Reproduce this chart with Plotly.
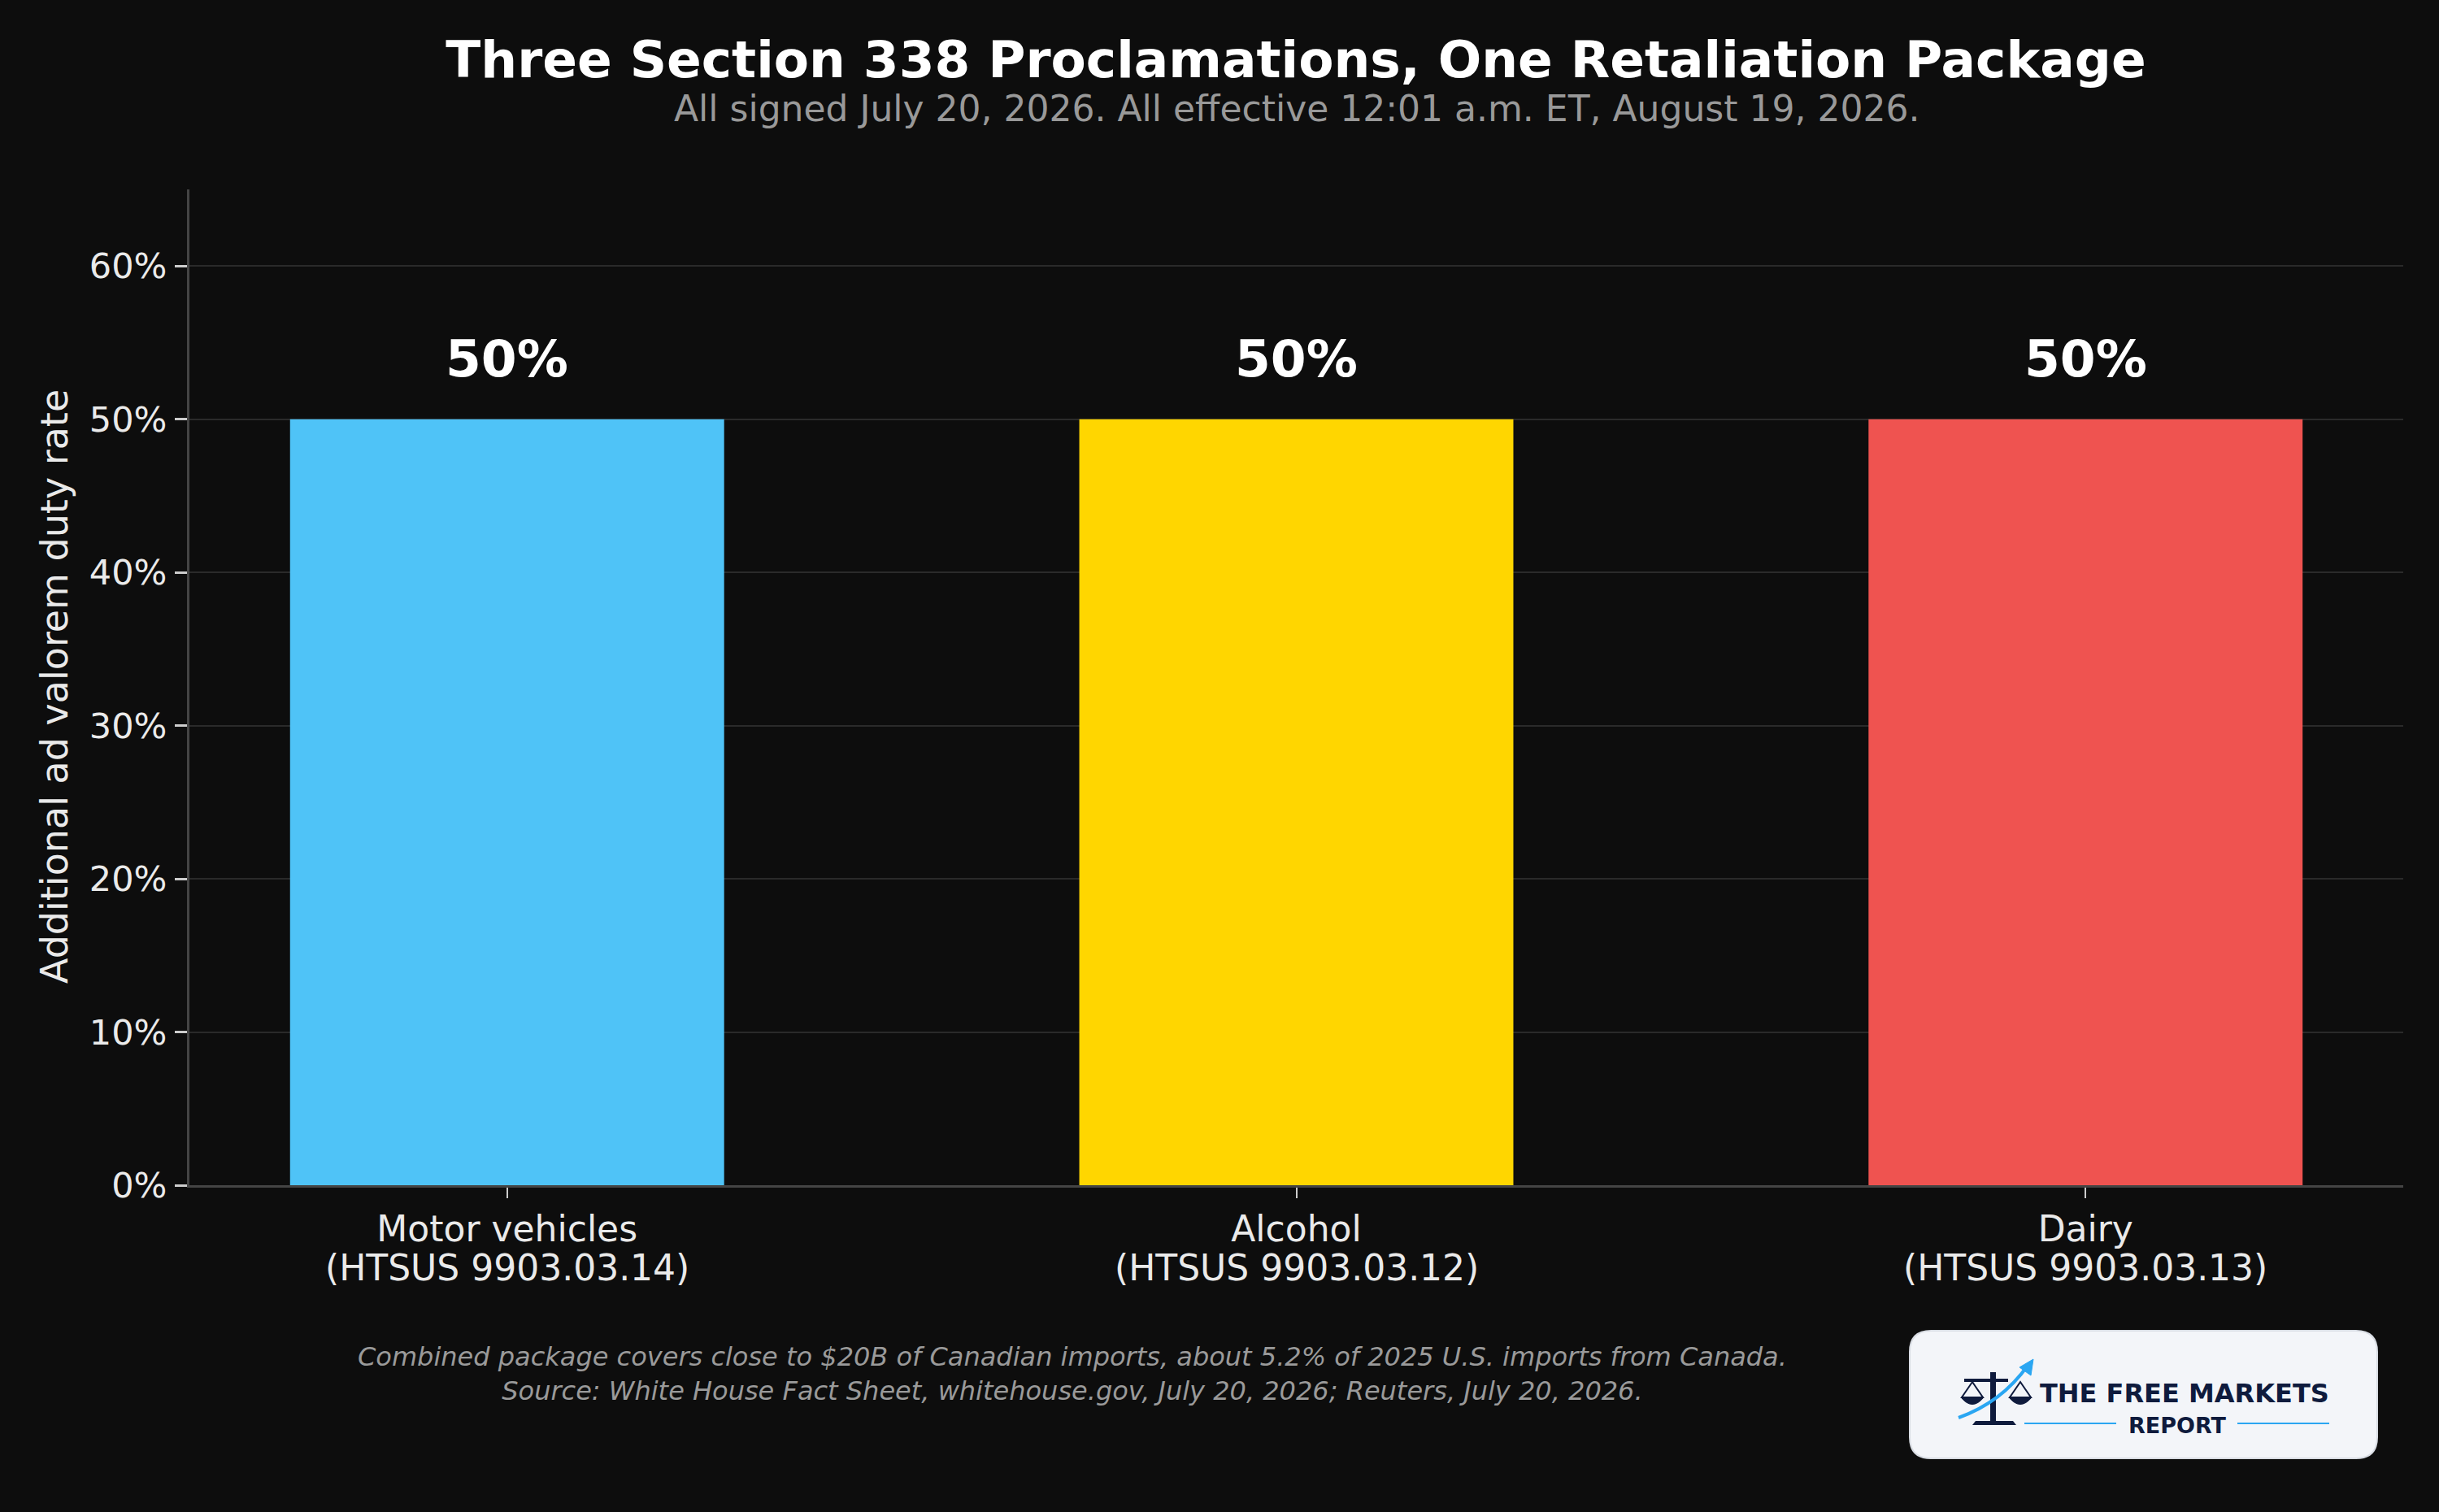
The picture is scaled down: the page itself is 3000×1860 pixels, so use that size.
import plotly.graph_objects as go

# ---- data ----
categories = ["Motor vehicles", "Alcohol", "Dairy"]
htsus_codes = ["(HTSUS 9903.03.14)", "(HTSUS 9903.03.12)", "(HTSUS 9903.03.13)"]
duty_rates = [50, 50, 50]
bar_labels = ["50%", "50%", "50%"]
bar_colors = ["#4FC3F7", "#FFD600", "#EF5350"]
y_ticks = [0, 10, 20, 30, 40, 50, 60]
y_tick_labels = ["0%", "10%", "20%", "30%", "40%", "50%", "60%"]

title_text = "Three Section 338 Proclamations, One Retaliation Package"
subtitle_text = "All signed July 20, 2026. All effective 12:01 a.m. ET, August 19, 2026."
footnote_text = ("Combined package covers close to $20B of Canadian imports, about 5.2% of 2025 U.S. imports from Canada.<br>"
                 "Source: White House Fact Sheet, whitehouse.gov, July 20, 2026; Reuters, July 20, 2026.")

# ---- layout geometry (pixels) ----
W, H = 3000, 1860
L, R, T, B = 233, 44, 233, 402
PW, PH = W - L - R, H - T - B
BG = "#0D0D0D"
FONT = "DejaVu Sans"
TXT = "#EAEAEA"


def px(x):
    return (x - L) / PW


def py(y):
    return (H - B - y) / PH


fig = go.Figure()
fig.add_trace(go.Bar(
    x=categories, y=duty_rates,
    marker=dict(color=bar_colors, line=dict(width=0)),
    hoverinfo="skip", showlegend=False,
))

# value labels above bars
for c, v, t in zip(categories, duty_rates, bar_labels):
    fig.add_annotation(x=c, y=v, text=t, showarrow=False, yanchor="middle",
                       yshift=74, font=dict(family=FONT, size=63, color="#FFFFFF",
                                           weight="bold"))

# second line of category labels
for c, code in zip(categories, htsus_codes):
    fig.add_annotation(x=c, y=py(1559), yref="paper", text=code, showarrow=False,
                       yanchor="middle", font=dict(family=FONT, size=44, color=TXT))

# titles
fig.update_layout(
    title=dict(text="<b>" + title_text + "</b>", x=px(1594), xref="paper", xanchor="center",
               y=1 - 73 / H, yref="container", yanchor="middle",
               font=dict(family=FONT, size=63, color="#FFFFFF")),
)
fig.add_annotation(x=0.5, xref="paper", y=py(134), yref="paper", yanchor="middle",
                   text=subtitle_text, showarrow=False,
                   font=dict(family=FONT, size=44, color="#999999"))

# y-axis title
fig.add_annotation(x=px(67), xref="paper", y=py(845), yref="paper", textangle=-90,
                   xanchor="center", yanchor="middle", showarrow=False,
                   text="Additional ad valorem duty rate",
                   font=dict(family=FONT, size=46, color=TXT))

# footnote
fig.add_annotation(x=px(1319), xref="paper", y=py(1690), yref="paper",
                   xanchor="center", yanchor="middle", showarrow=False, align="center",
                   text=footnote_text,
                   font=dict(family=FONT, size=32, color="#9A9A9A", style="italic"))

# ---- logo ----
x0, x1, y0, y1, r = 2349, 2924, 1637, 1794, 26
path = (f"M {px(x0 + r)},{py(y0)} L {px(x1 - r)},{py(y0)} "
        f"Q {px(x1)},{py(y0)} {px(x1)},{py(y0 + r)} L {px(x1)},{py(y1 - r)} "
        f"Q {px(x1)},{py(y1)} {px(x1 - r)},{py(y1)} L {px(x0 + r)},{py(y1)} "
        f"Q {px(x0)},{py(y1)} {px(x0)},{py(y1 - r)} L {px(x0)},{py(y0 + r)} "
        f"Q {px(x0)},{py(y0)} {px(x0 + r)},{py(y0)} Z")
fig.add_shape(type="path", xref="paper", yref="paper", path=path,
              fillcolor="#F3F5F9", line=dict(color="#D8DCE3", width=2), layer="above")

NAVY = "#0F1B3D"
BLUE = "#2AA6F2"
fig.add_annotation(x=px(2687), xref="paper", y=py(1714), yref="paper", xanchor="center",
                   yanchor="middle", showarrow=False, text="<b>THE FREE MARKETS</b>",
                   font=dict(family="DejaVu Sans", size=32, color=NAVY))
fig.add_annotation(x=px(2678), xref="paper", y=py(1753), yref="paper", xanchor="center",
                   yanchor="middle", showarrow=False, text="<b>REPORT</b>",
                   font=dict(family="DejaVu Sans", size=27, color=NAVY))
for a, b in [(2490, 2603), (2752, 2865)]:
    fig.add_shape(type="line", xref="paper", yref="paper", x0=px(a), x1=px(b),
                  y0=py(1751), y1=py(1751), line=dict(color=BLUE, width=2), layer="above")
# scale icon
fig.add_shape(type="rect", xref="paper", yref="paper", x0=px(2448), x1=px(2455),
              y0=py(1748), y1=py(1688), fillcolor=NAVY, line=dict(width=0), layer="above")
fig.add_shape(type="rect", xref="paper", yref="paper", x0=px(2416), x1=px(2470),
              y0=py(1700), y1=py(1696), fillcolor=NAVY, line=dict(width=0), layer="above")
fig.add_shape(type="path", xref="paper", yref="paper",
              path=f"M {px(2430)},{py(1748)} L {px(2476)},{py(1748)} L {px(2480)},{py(1753)} L {px(2426)},{py(1753)} Z",
              fillcolor=NAVY, line=dict(width=0), layer="above")
for cx in (2426, 2485):
    fig.add_shape(type="path", xref="paper", yref="paper",
                  path=f"M {px(cx)},{py(1700)} L {px(cx - 13)},{py(1719)} L {px(cx + 13)},{py(1719)} Z",
                  fillcolor="rgba(0,0,0,0)", line=dict(color=NAVY, width=2), layer="above")
    fig.add_shape(type="path", xref="paper", yref="paper",
                  path=f"M {px(cx - 14)},{py(1719)} Q {px(cx)},{py(1736)} {px(cx + 14)},{py(1719)} Z",
                  fillcolor=NAVY, line=dict(color=NAVY, width=1), layer="above")
fig.add_shape(type="path", xref="paper", yref="paper",
              path=f"M {px(2409)},{py(1744)} Q {px(2462)},{py(1725)} {px(2494)},{py(1680)}",
              line=dict(color=BLUE, width=4), layer="above")
fig.add_shape(type="path", xref="paper", yref="paper",
              path=f"M {px(2501)},{py(1672)} L {px(2498)},{py(1692)} L {px(2484)},{py(1682)} Z",
              fillcolor=BLUE, line=dict(color=BLUE, width=1), layer="above")

fig.update_layout(
    width=W, height=H,
    margin=dict(l=L, r=R, t=T, b=B, pad=0),
    paper_bgcolor=BG, plot_bgcolor=BG,
    bargap=0.45,
    font=dict(family=FONT, color=TXT),
    xaxis=dict(range=[-0.4025, 2.4025], showgrid=False, zeroline=False,
               showline=True, linecolor="#444444", linewidth=3,
               ticks="outside", ticklen=13, tickwidth=2, tickcolor="#CCCCCC",
               tickfont=dict(family=FONT, size=44, color=TXT),
               ticklabelstandoff=0, fixedrange=True),
    yaxis=dict(range=[0, 65], tickvals=y_ticks, ticktext=y_tick_labels,
               showgrid=True, gridcolor="#2A2A2A", gridwidth=2, zeroline=False,
               showline=True, linecolor="#444444", linewidth=3,
               ticks="outside", ticklen=15, tickwidth=3, tickcolor="#CCCCCC",
               tickfont=dict(family=FONT, size=43, color=TXT),
               ticklabelstandoff=1, fixedrange=True),
)

fig.write_html("out.html")
